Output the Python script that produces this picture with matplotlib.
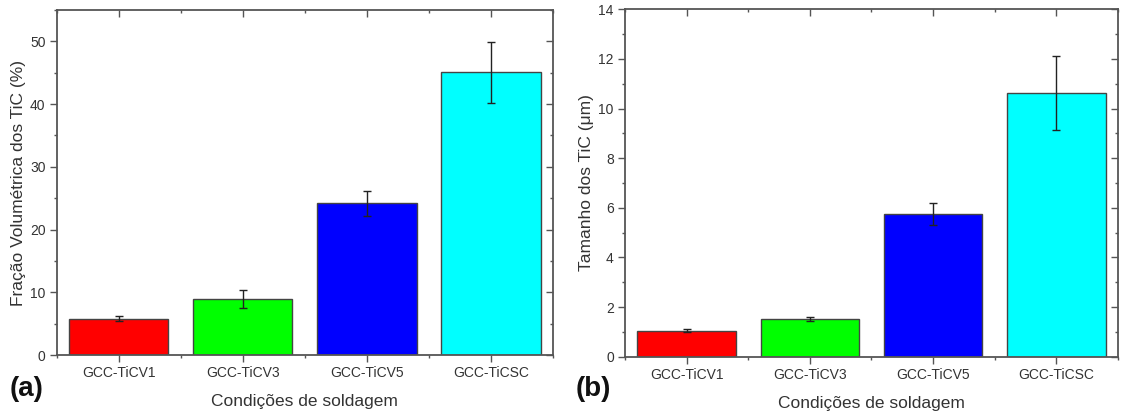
import matplotlib
matplotlib.use("Agg")
import matplotlib.pyplot as plt
from matplotlib.ticker import MultipleLocator, FixedLocator, NullFormatter

plt.rcParams['font.family'] = ['Liberation Sans', 'DejaVu Sans']

categories = ['GCC-TiCV1', 'GCC-TiCV3', 'GCC-TiCV5', 'GCC-TiCSC']
colors = ['#FF0000', '#00FF00', '#0000FF', '#00FFFF']

fraction = [5.8, 8.9, 24.2, 45.1]
fraction_err = [0.35, 1.4, 2.0, 4.85]

size = [1.05, 1.52, 5.75, 10.62]
size_err = [0.05, 0.10, 0.43, 1.50]

text_color = '#333333'
spine_color = '#555555'

fig = plt.figure(figsize=(11.21, 4.12), dpi=100)
ax_a = fig.add_axes([0.0506, 0.1383, 0.4427, 0.8374])
ax_b = fig.add_axes([0.5575, 0.1342, 0.4398, 0.8432])


def draw(ax, values, errors, ylim, major, minor, ylabel, tag, tag_x):
    x = list(range(1, len(categories) + 1))
    ax.bar(x, values, width=0.8, color=colors, edgecolor='#444444', linewidth=1.0, zorder=2)
    ax.errorbar(x, values, yerr=errors, fmt='none', ecolor='#222222',
                elinewidth=1.0, capsize=3, capthick=1.0, zorder=3)
    ax.set_xlim(0.5, 4.5)
    ax.set_ylim(*ylim)
    ax.set_xticks(x)
    ax.set_xticklabels(categories)
    ax.xaxis.set_minor_locator(FixedLocator([0.5, 1.5, 2.5, 3.5, 4.5]))
    ax.yaxis.set_major_locator(MultipleLocator(major))
    ax.yaxis.set_minor_locator(MultipleLocator(minor))
    ax.tick_params(which='both', direction='out', colors=spine_color,
                   labelcolor=text_color, labelsize=10, top=False, right=False)
    ax.tick_params(which='major', length=5, width=1.0, pad=3)
    ax.tick_params(which='minor', length=2.5, width=1.0)
    for s in ax.spines.values():
        s.set_color(spine_color)
        s.set_linewidth(1.3)

    # mirrored inward ticks on the top and right edges
    top = ax.secondary_xaxis('top')
    top.set_xticks(x)
    top.xaxis.set_minor_locator(FixedLocator([0.5, 1.5, 2.5, 3.5, 4.5]))
    top.xaxis.set_major_formatter(NullFormatter())
    top.tick_params(which='both', direction='in', colors=spine_color)
    top.tick_params(which='major', length=5, width=1.0)
    top.tick_params(which='minor', length=2.5, width=1.0)
    top.spines['top'].set_visible(False)

    right = ax.secondary_yaxis('right')
    right.yaxis.set_major_locator(MultipleLocator(major))
    right.yaxis.set_minor_locator(MultipleLocator(minor))
    right.yaxis.set_major_formatter(NullFormatter())
    right.tick_params(which='both', direction='in', colors=spine_color)
    right.tick_params(which='major', length=5, width=1.0)
    right.tick_params(which='minor', length=2.5, width=1.0)
    right.spines['right'].set_visible(False)

    ax.set_xlabel('Condições de soldagem', fontsize=12.5, color=text_color, labelpad=10)
    ax.set_ylabel(ylabel, fontsize=12.5, color=text_color, labelpad=3)
    fig.text(tag_x, 1 - 388.5 / 412, tag, fontsize=20, fontweight='bold',
             color='#111111', ha='left', va='center')


draw(ax_a, fraction, fraction_err, (0, 55), 10, 5,
     'Fração Volumétrica dos TiC (%)', '(a)', 10 / 1121)
draw(ax_b, size, size_err, (0, 14), 2, 1,
     'Tamanho dos TiC (\u03bcm)', '(b)', 576 / 1121)

fig.savefig('out.png', dpi=100)
